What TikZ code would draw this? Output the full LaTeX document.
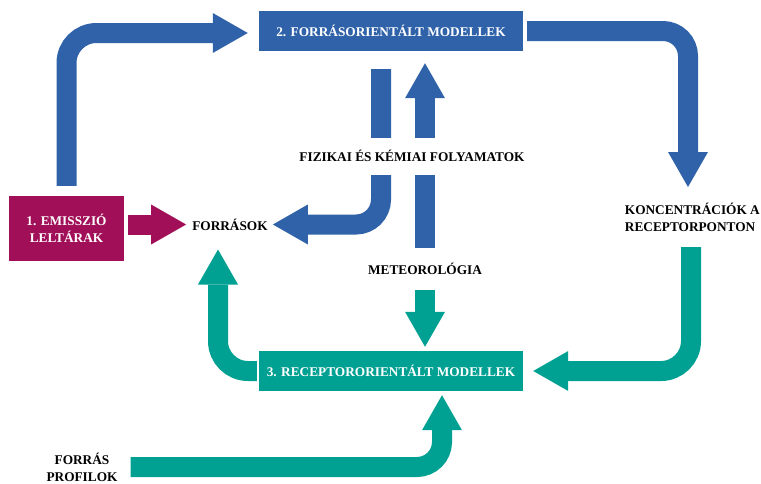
\documentclass[tikz,border=0pt]{standalone}
\usepackage{fontspec}
\setmainfont{Liberation Serif}
\usetikzlibrary{arrows.meta, backgrounds}
\definecolor{modelblue}{HTML}{2F62A8}
\definecolor{emisred}{HTML}{A10F58}
\definecolor{recteal}{HTML}{00A192}
\newcommand{\lblfont}{\bfseries\fontsize{13.3}{17}\selectfont}

\tikzset{
  box/.style={rectangle, fill=#1, text=white, inner sep=0pt, font=\lblfont, align=center},
  lbl/.style={inner sep=0pt, font=\lblfont, align=center},
  fat/.style={draw=#1, line width=20pt, -{Triangle[length=35pt, width=40pt, line width=0pt]}},
}

\begin{document}
\begin{tikzpicture}[x=1pt, y=-1pt]
    \useasboundingbox (0,0) rectangle (761,483);
    % boxes
    \node (emis) at (66.5,228.5) [box=emisred, minimum width=115pt, minimum height=65pt] {1. EMISSZIÓ\\LELTÁRAK};
    \node (forr) at (391,31)     [box=modelblue, minimum width=264pt, minimum height=40pt] {2. FORRÁSORIENTÁLT MODELLEK};
    \node (rec)  at (391,371)    [box=recteal, minimum width=264pt, minimum height=40pt] {3. RECEPTORORIENTÁLT MODELLEK};
    % labels
    \node (forrasok) at (230,224.5) [lbl] {FORRÁSOK};
    \node (fiz)      at (412,156)   [lbl, fill=white, minimum height=37pt, inner xsep=2pt] {FIZIKAI ÉS KÉMIAI FOLYAMATOK};
    \node (meteo)    at (425,269)   [lbl, minimum height=42pt] {METEOROLÓGIA};
    \node (konc)     at (760,217)   [lbl, anchor=east, align=left] {KONCENTRÁCIÓK A\\RECEPTORPONTON};
    \node (profil)   at (82,467)    [lbl] {FORRÁS\\PROFILOK};
    \coordinate (konc in)  at (688,187);
    \coordinate (konc out) at (691,247);
    % arrows
    \begin{scope}[on background layer]
    \draw[fat=modelblue, rounded corners=30pt] ([yshift=10pt]emis.north) |- ([xshift=-11pt,yshift=-2pt]forr.west);
    \draw[fat=modelblue, rounded corners=25pt] ([xshift=4pt]forr.east) -| (konc in);
    \draw[fat=modelblue, rounded corners=25pt] ([xshift=-10pt,yshift=-18pt]forr.south) |- ([xshift=5pt]forrasok.east);
    \draw[fat=modelblue, shorten >=12pt] (meteo.north) -- (meteo.north |- forr.south);
    \draw[fat=emisred, shorten <=4pt, shorten >=6pt] (forrasok.west -| emis.east) -- (forrasok.west);
    \draw[fat=recteal, shorten >=4pt] (meteo.south) -- (meteo.south |- rec.north);
    \draw[fat=recteal, rounded corners=30pt] ([xshift=-2pt]rec.west) -| ([xshift=-12pt,yshift=-25pt]forrasok.center);
    \draw[fat=recteal, rounded corners=30pt] (konc out) |- ([xshift=10pt]rec.east);
    \draw[fat=recteal, rounded corners=25pt] ([xshift=13pt]profil.east) -| ([xshift=51pt,yshift=-4pt]rec.south);
    \end{scope}
\end{tikzpicture}
\end{document}
